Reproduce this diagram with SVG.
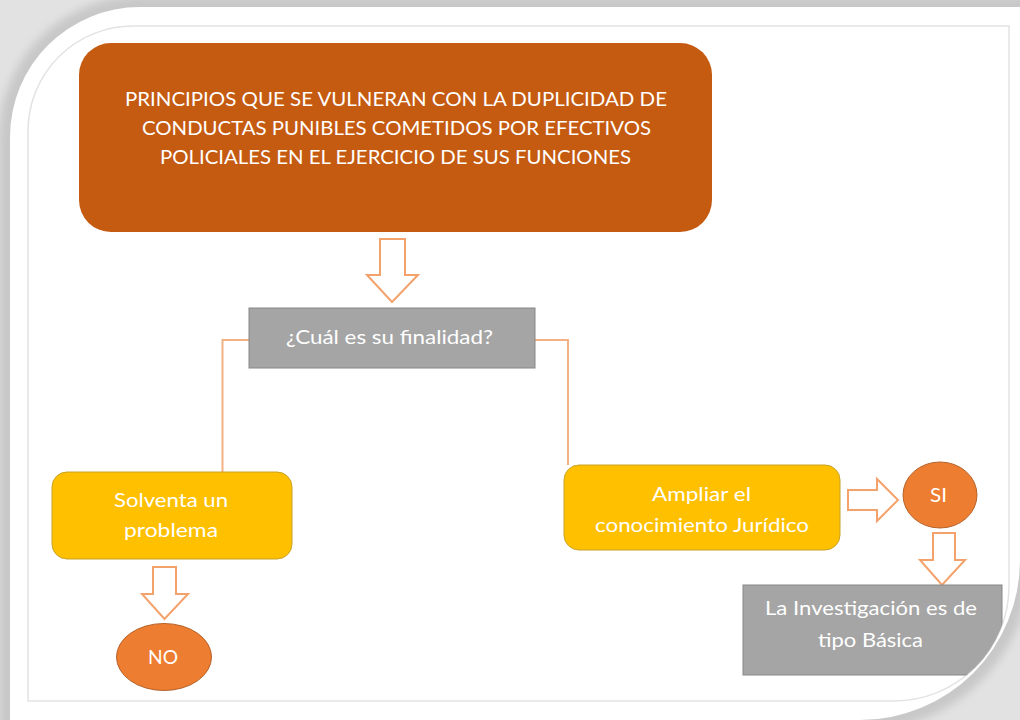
<svg xmlns="http://www.w3.org/2000/svg" width="1020" height="720" viewBox="0 0 1020 720">
  <defs>
    <style>
      .txt { font-family: Lato, "Liberation Sans", Arial, sans-serif; font-size: 19px; fill: #ffffff; text-anchor: middle; }
      .harrow { fill: #ffffff; stroke: #F4A26B; stroke-width: 2; stroke-linejoin: miter; }
      .conn { fill: none; stroke: #F4B183; stroke-width: 2; }
      .gray { fill: #A5A5A5; stroke: #878787; stroke-width: 1; }
      .yellow { fill: #FFC000; stroke: #C9A227; stroke-width: 1; }
      .oval { fill: #ED7D31; stroke: #B5622A; stroke-width: 1; }
    </style>
    <filter id="blur" x="-10%" y="-10%" width="120%" height="120%">
      <feGaussianBlur stdDeviation="4"/>
    </filter>
    <clipPath id="innerClip">
      <path d="M28,131 A105,105 0 0 1 133,26 H1009 V586 A115,115 0 0 1 894,701 H28 Z"/>
    </clipPath>
  </defs>

  <g id="frame">
    <rect x="0" y="0" width="1020" height="720" fill="#e2e2e2"/>
    <path d="M10,137 A130,130 0 0 1 140,7 H1020 V560 A160,160 0 0 1 860,720 H10 Z" fill="none" stroke="#c8c8c8" stroke-width="22" filter="url(#blur)"/>
    <path d="M10,137 A130,130 0 0 1 140,7 H1020 V560 A160,160 0 0 1 860,720 H10 Z" fill="#ffffff"/>
    <path d="M28,131 A105,105 0 0 1 133,26 H1009 V586 A115,115 0 0 1 894,701 H28 Z" fill="none" stroke="#e3e3e3" stroke-width="1.5"/>
  </g>

  <g id="connectors">
    <path class="conn" d="M249,340 H222.5 V472"/>
    <path class="conn" d="M535,340 H568 V465"/>
    <path class="harrow" d="M380,239 H405 V275 H418 L392,302 L367,275 H380 Z"/>
    <path class="harrow" d="M153,567 H176 V594 H188 L164.5,619 L142,594 H153 Z"/>
    <path class="harrow" d="M848,490 H877 V479 L898,500 L877,521 V510 H848 Z"/>
    <path class="harrow" d="M933,533 H955 V560 H965 L942,585 L920,560 H933 Z"/>
  </g>

  <g id="node-principios">
    <rect x="79" y="43" width="633" height="189" rx="32" ry="32" fill="#C55A11"/>
    <text class="txt" x="396" y="106" textLength="542" lengthAdjust="spacingAndGlyphs">PRINCIPIOS QUE SE VULNERAN CON LA DUPLICIDAD DE</text>
    <text class="txt" x="396.5" y="135" textLength="509" lengthAdjust="spacingAndGlyphs">CONDUCTAS PUNIBLES COMETIDOS POR EFECTIVOS</text>
    <text class="txt" x="395.5" y="164" textLength="471" lengthAdjust="spacingAndGlyphs">POLICIALES EN EL EJERCICIO DE SUS FUNCIONES</text>
  </g>

  <g id="node-finalidad">
    <rect class="gray" x="249" y="308" width="286" height="60"/>
    <text class="txt" x="389.5" y="344" textLength="207" lengthAdjust="spacingAndGlyphs">¿Cuál es su finalidad?</text>
  </g>

  <g id="node-solventa">
    <rect class="yellow" x="52" y="472" width="240" height="87" rx="15" ry="15"/>
    <text class="txt" x="171" y="507" textLength="114" lengthAdjust="spacingAndGlyphs">Solventa un</text>
    <text class="txt" x="171" y="537" textLength="94" lengthAdjust="spacingAndGlyphs">problema</text>
  </g>

  <g id="node-no">
    <ellipse class="oval" cx="164" cy="657" rx="47.5" ry="33.5"/>
    <text class="txt" x="163" y="664" textLength="30" lengthAdjust="spacingAndGlyphs">NO</text>
  </g>

  <g id="node-ampliar">
    <rect class="yellow" x="564" y="465" width="276" height="85" rx="15" ry="15"/>
    <text class="txt" x="701.5" y="501" textLength="99" lengthAdjust="spacingAndGlyphs">Ampliar el</text>
    <text class="txt" x="702" y="532" textLength="214" lengthAdjust="spacingAndGlyphs">conocimiento Jurídico</text>
  </g>

  <g id="node-si">
    <ellipse class="oval" cx="940" cy="495" rx="37" ry="33"/>
    <text class="txt" x="938.5" y="502" textLength="17" lengthAdjust="spacingAndGlyphs">SI</text>
  </g>

  <g id="node-basica">
    <g clip-path="url(#innerClip)">
      <rect class="gray" x="743" y="585" width="259" height="90"/>
    </g>
    <text class="txt" x="871" y="615" textLength="212" lengthAdjust="spacingAndGlyphs">La Investigación es de</text>
    <text class="txt" x="870.5" y="647" textLength="105" lengthAdjust="spacingAndGlyphs">tipo Básica</text>
  </g>
</svg>
